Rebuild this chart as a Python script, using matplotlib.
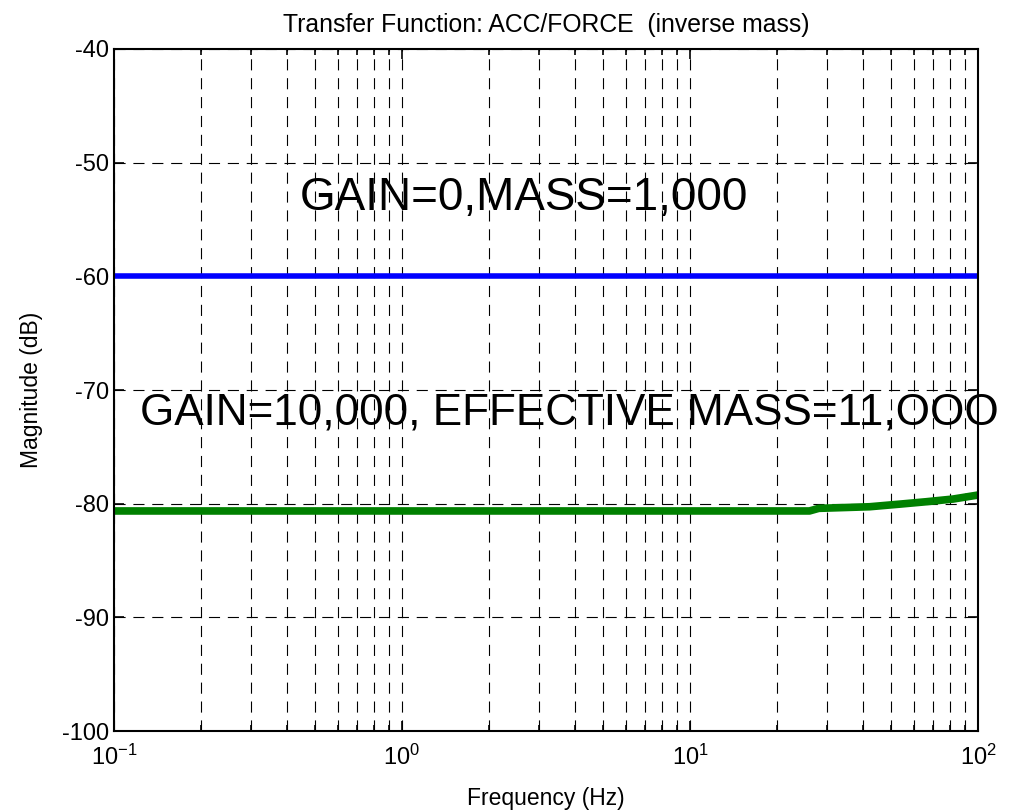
import numpy as np
import matplotlib.pyplot as plt
from matplotlib.ticker import LogLocator, NullFormatter

plt.rcParams['font.family'] = ['Liberation Sans', 'DejaVu Sans']
plt.rcParams['mathtext.fontset'] = 'custom'
plt.rcParams['mathtext.rm'] = 'Liberation Sans'
plt.rcParams['axes.unicode_minus'] = False

# Data
freq_blue = [0.1, 100]
mag_blue = [-60.0, -60.0]

freq_green = [0.1, 26, 28, 42, 54, 66, 82, 100]
mag_green = [-80.64, -80.64, -80.41, -80.27, -80.03, -79.83, -79.59, -79.24]

title = "Transfer Function: ACC/FORCE  (inverse mass)"
label_top = "GAIN=0,MASS=1,000"
label_bottom = "GAIN=10,000, EFFECTIVE MASS=11,OOO"

fig = plt.figure(figsize=(10.18, 8.11), dpi=100)
ax = fig.add_axes([0.112, 0.0986, 0.8487, 0.841])

ax.semilogx(freq_blue, mag_blue, color='#0000ff', lw=4.0, solid_capstyle='butt')
ax.semilogx(freq_green, mag_green, color='#008000', lw=5.5, solid_capstyle='butt')

ax.set_xlim(0.1, 100)
ax.set_ylim(-100, -40)
ax.set_yticks(np.arange(-100, -39, 10))
ax.xaxis.set_major_locator(LogLocator(base=10))
ax.xaxis.set_minor_locator(LogLocator(base=10, subs=np.arange(2, 10)))
ax.xaxis.set_minor_formatter(NullFormatter())

dash = (0, (10, 7))
ax.grid(True, which='both', axis='x', color='black', linestyle=dash, lw=0.8)
ax.grid(True, which='major', axis='y', color='black', linestyle=dash, lw=0.8)

ax.tick_params(which='both', direction='in', top=True, right=True, labelsize=17, width=1.2)
ax.tick_params(which='major', length=7)
ax.tick_params(which='minor', length=4)
ax.tick_params(axis='x', pad=10)
for s in ax.spines.values():
    s.set_linewidth(1.5)

ax.text(0.443, -53.1, label_top, fontsize=33, va='center', ha='left')
ax.text(0.123, -72.0, label_bottom, fontsize=31.7, va='center', ha='left')

ax.set_title(title, fontsize=17.8, pad=12)
ax.set_xlabel("Frequency (Hz)", fontsize=16.5, labelpad=12)
ax.set_ylabel("Magnitude (dB)", fontsize=16.5, labelpad=14)

plt.savefig("out.png", dpi=100)
